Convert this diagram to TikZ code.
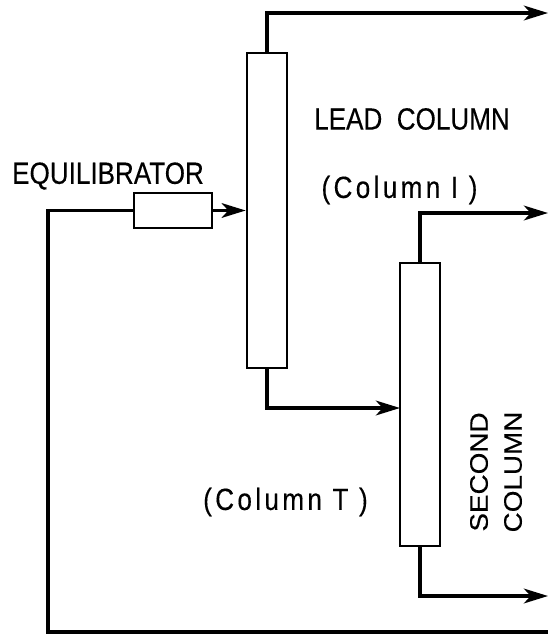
\documentclass[tikz,border=0pt]{standalone}
\usepackage{fontspec}
\setmainfont{Liberation Sans}
\newfontfamily\labfont[FakeStretch=0.85,FakeBold=0.3]{Liberation Sans}
\newfontfamily\parfont[FakeStretch=0.85,LetterSpace=11,FakeBold=0.3]{Liberation Sans}
\newfontfamily\vfont[FakeStretch=1.1,FakeBold=0.3]{Liberation Sans}
\usetikzlibrary{arrows.meta}
\begin{document}
\begin{tikzpicture}[x=0.75pt,y=-0.75pt,
  flow/.style={line width=2.7pt, line join=miter},
  arr/.style={flow, -{Stealth[length=18pt,width=11pt,inset=5pt]}},
  colbox/.style={draw, line width=2pt, inner sep=0pt, fill=white},
  lab/.style={inner sep=0pt, font=\labfont\fontsize{23}{26}\selectfont},
  plab/.style={inner sep=0pt, font=\parfont\fontsize{23}{26}\selectfont},
  vlab/.style={inner sep=0pt, align=center, rotate=90, font=\vfont\fontsize{19}{25.5}\selectfont}]
\useasboundingbox (0,0) rectangle (548,636);
\fill[white] (0,0) rectangle (548,636);
% boxes
\node[colbox, minimum width=30pt, minimum height=236.25pt] (lead) at (267,210.5) {};
\node[colbox, minimum width=58.5pt, minimum height=26.25pt] (equil) at (173,210.5) {};
\node[colbox, minimum width=30pt, minimum height=212.25pt] (second) at (420,404.5) {};
% free ends
\coordinate (out1) at (548,13);
\coordinate (out2) at (548,213);
\coordinate (out3) at (548,596);
\coordinate (in2) at (400,408);
\coordinate (corner) at (48,632);
\coordinate (rec) at (548,632);
% connectors
\draw[arr] (equil.east) -- (lead.west);
\draw[arr] (lead.north) |- (out1);
\draw[arr] (lead.south) |- (in2);
\draw[arr] (second.north) |- (out2);
\draw[arr] (second.south) |- (out3);
\draw[flow] (equil.west) -| (corner) -- (rec);
% labels
\node[lab] (tequil) at (108,176) {EQUILIBRATOR};
\node[lab] (tlead) at (412,119) {LEAD\ \ COLUMN};
\node[plab] (tcol1) at (399.5,190) {(Column I )};
\node[plab] (tcol2) at (285.5,502) {(Column T )};
\node[vlab] (tsec) at (496,472) {SECOND\\COLUMN};
\end{tikzpicture}
\end{document}
